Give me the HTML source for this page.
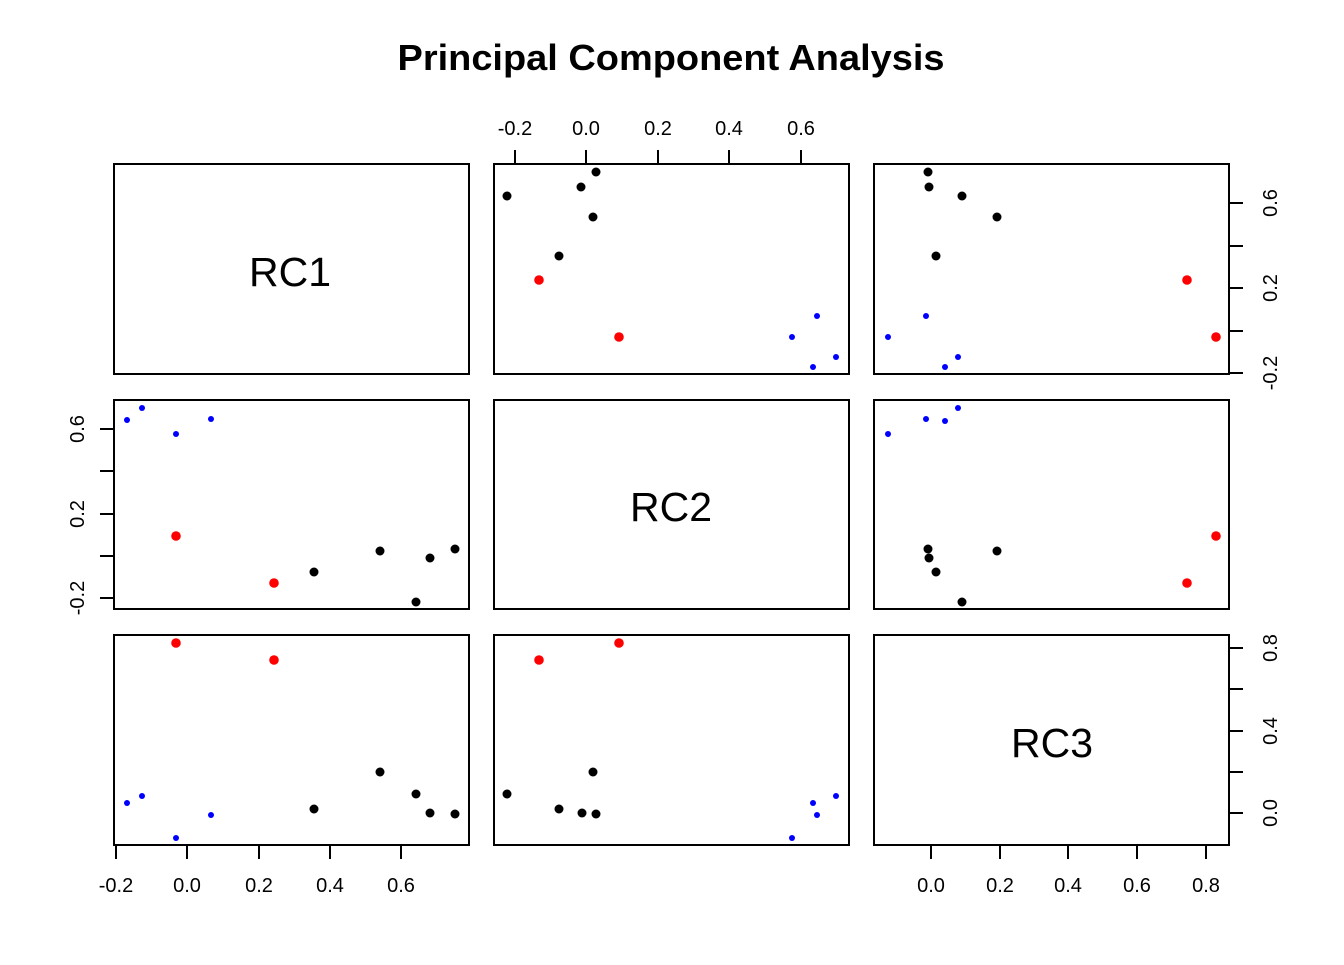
<!DOCTYPE html>
<html><head><meta charset="utf-8"><style>html,body{margin:0;padding:0;background:#fff}</style></head>
<body>
<svg width="1344" height="960" xmlns="http://www.w3.org/2000/svg" font-family="Liberation Sans, Arial, sans-serif">
<rect width="1344" height="960" fill="#fff"/>
<text x="671" y="70" text-anchor="middle" font-weight="bold" font-size="36" textLength="547" lengthAdjust="spacingAndGlyphs">Principal Component Analysis</text>
<g fill="none" stroke="#000" stroke-width="2">
<rect x="114" y="164" width="355" height="210"/>
<rect x="494" y="164" width="355" height="210"/>
<rect x="874" y="164" width="355" height="210"/>
<rect x="114" y="400" width="355" height="209"/>
<rect x="494" y="400" width="355" height="209"/>
<rect x="874" y="400" width="355" height="209"/>
<rect x="114" y="635" width="355" height="210"/>
<rect x="494" y="635" width="355" height="210"/>
<rect x="874" y="635" width="355" height="210"/>
<path d="M515 164V150M586 164V150M658 164V150M729 164V150M801 164V150"/>
<path d="M116 845V859M187 845V859M259 845V859M330 845V859M401 845V859"/>
<path d="M931 845V859M1000 845V859M1068 845V859M1137 845V859M1206 845V859"/>
<path d="M114 429H100M114 471H100M114 514H100M114 556H100M114 598H100"/>
<path d="M1229 203H1243M1229 246H1243M1229 288H1243M1229 331H1243M1229 373H1243"/>
<path d="M1229 648H1243M1229 689H1243M1229 731H1243M1229 772H1243M1229 813H1243"/>
</g>
<g font-size="20" text-anchor="middle">
<text x="515" y="135">-0.2</text><text x="586" y="135">0.0</text><text x="658" y="135">0.2</text><text x="729" y="135">0.4</text><text x="801" y="135">0.6</text>
<text x="116" y="892">-0.2</text><text x="187" y="892">0.0</text><text x="259" y="892">0.2</text><text x="330" y="892">0.4</text><text x="401" y="892">0.6</text>
<text x="931" y="892">0.0</text><text x="1000" y="892">0.2</text><text x="1068" y="892">0.4</text><text x="1137" y="892">0.6</text><text x="1206" y="892">0.8</text>
<text transform="translate(84,429) rotate(-90)">0.6</text><text transform="translate(84,514) rotate(-90)">0.2</text><text transform="translate(84,598) rotate(-90)">-0.2</text>
<text transform="translate(1277,203) rotate(-90)">0.6</text><text transform="translate(1277,288) rotate(-90)">0.2</text><text transform="translate(1277,373) rotate(-90)">-0.2</text>
<text transform="translate(1277,648) rotate(-90)">0.8</text><text transform="translate(1277,731) rotate(-90)">0.4</text><text transform="translate(1277,813) rotate(-90)">0.0</text>
</g>
<g font-size="41" text-anchor="middle">
<text x="290" y="286">RC1</text><text x="671" y="521">RC2</text><text x="1052" y="757">RC3</text>
</g>
<g fill="#000">
<circle cx="507" cy="196" r="4.5"/><circle cx="581" cy="187" r="4.5"/><circle cx="596" cy="172" r="4.5"/><circle cx="593" cy="217" r="4.5"/><circle cx="559" cy="256" r="4.5"/>
<circle cx="928" cy="172" r="4.5"/><circle cx="929" cy="187" r="4.5"/><circle cx="962" cy="196" r="4.5"/><circle cx="997" cy="217" r="4.5"/><circle cx="936" cy="256" r="4.5"/>
<circle cx="314" cy="572" r="4.5"/><circle cx="380" cy="551" r="4.5"/><circle cx="416" cy="602" r="4.5"/><circle cx="430" cy="558" r="4.5"/><circle cx="455" cy="549" r="4.5"/>
<circle cx="928" cy="549" r="4.5"/><circle cx="929" cy="558" r="4.5"/><circle cx="936" cy="572" r="4.5"/><circle cx="962" cy="602" r="4.5"/><circle cx="997" cy="551" r="4.5"/>
<circle cx="314" cy="809" r="4.5"/><circle cx="380" cy="772" r="4.5"/><circle cx="416" cy="794" r="4.5"/><circle cx="430" cy="813" r="4.5"/><circle cx="455" cy="814" r="4.5"/>
<circle cx="507" cy="794" r="4.5"/><circle cx="559" cy="809" r="4.5"/><circle cx="582" cy="813" r="4.5"/><circle cx="596" cy="814" r="4.5"/><circle cx="593" cy="772" r="4.5"/>
</g>
<g fill="#f00">
<circle cx="539" cy="280" r="4.8"/><circle cx="619" cy="337" r="4.8"/>
<circle cx="1187" cy="280" r="4.8"/><circle cx="1216" cy="337" r="4.8"/>
<circle cx="176" cy="536" r="4.8"/><circle cx="274" cy="583" r="4.8"/>
<circle cx="1216" cy="536" r="4.8"/><circle cx="1187" cy="583" r="4.8"/>
<circle cx="176" cy="643" r="4.8"/><circle cx="274" cy="660" r="4.8"/>
<circle cx="539" cy="660" r="4.8"/><circle cx="619" cy="643" r="4.8"/>
</g>
<g fill="#00f">
<circle cx="792" cy="337" r="3"/><circle cx="817" cy="316" r="3"/><circle cx="813" cy="367" r="3"/><circle cx="836" cy="357" r="3"/>
<circle cx="888" cy="337" r="3"/><circle cx="926" cy="316" r="3"/><circle cx="945" cy="367" r="3"/><circle cx="958" cy="357" r="3"/>
<circle cx="127" cy="420" r="3"/><circle cx="142" cy="408" r="3"/><circle cx="176" cy="434" r="3"/><circle cx="211" cy="419" r="3"/>
<circle cx="888" cy="434" r="3"/><circle cx="926" cy="419" r="3"/><circle cx="945" cy="421" r="3"/><circle cx="958" cy="408" r="3"/>
<circle cx="127" cy="803" r="3"/><circle cx="142" cy="796" r="3"/><circle cx="176" cy="838" r="3"/><circle cx="211" cy="815" r="3"/>
<circle cx="792" cy="838" r="3"/><circle cx="813" cy="803" r="3"/><circle cx="817" cy="815" r="3"/><circle cx="836" cy="796" r="3"/>
</g>
</svg>
</body></html>
